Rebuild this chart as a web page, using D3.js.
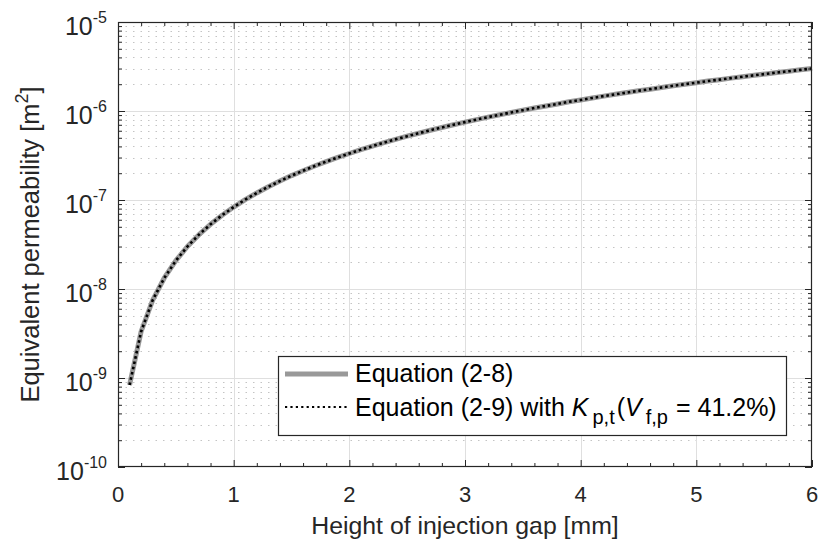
<!DOCTYPE html>
<html>
<head>
<meta charset="utf-8">
<script src="https://cdn.jsdelivr.net/npm/d3@7"></script>
<style>
  html, body { margin: 0; padding: 0; background: #fff; }
  svg { display: block; font-family: "Liberation Sans", Arial, Helvetica, sans-serif; }
</style>
</head>
<body>
<svg id="chart" width="819" height="542"></svg>
<script>
// ---- data ----
const gapHeightMM = [0.1,0.2,0.3,0.4,0.5,0.6,0.7,0.8,0.9,1.0,
  1.1,1.2,1.3,1.4,1.5,1.6,1.7,1.8,1.9,2.0,
  2.1,2.2,2.3,2.4,2.5,2.6,2.7,2.8,2.9,3.0,
  3.1,3.2,3.3,3.4,3.5,3.6,3.7,3.8,3.9,4.0,
  4.1,4.2,4.3,4.4,4.5,4.6,4.7,4.8,4.9,5.0,
  5.1,5.2,5.3,5.4,5.5,5.6,5.7,5.8,5.9,6.0];
const eq28 = [8.33e-10,3.33e-9,7.50e-9,1.33e-8,2.08e-8,3.00e-8,4.08e-8,5.33e-8,6.75e-8,8.33e-8,
  1.01e-7,1.20e-7,1.41e-7,1.63e-7,1.88e-7,2.13e-7,2.41e-7,2.70e-7,3.01e-7,3.33e-7,
  3.68e-7,4.03e-7,4.41e-7,4.80e-7,5.21e-7,5.63e-7,6.08e-7,6.53e-7,7.01e-7,7.50e-7,
  8.01e-7,8.53e-7,9.08e-7,9.63e-7,1.02e-6,1.08e-6,1.14e-6,1.20e-6,1.27e-6,1.33e-6,
  1.40e-6,1.47e-6,1.54e-6,1.61e-6,1.69e-6,1.76e-6,1.84e-6,1.92e-6,2.00e-6,2.08e-6,
  2.17e-6,2.25e-6,2.34e-6,2.43e-6,2.52e-6,2.61e-6,2.71e-6,2.80e-6,2.90e-6,3.00e-6];
const eq29 = [8.33e-10,3.33e-9,7.50e-9,1.33e-8,2.08e-8,3.00e-8,4.08e-8,5.33e-8,6.75e-8,8.33e-8,
  1.01e-7,1.20e-7,1.41e-7,1.63e-7,1.88e-7,2.13e-7,2.41e-7,2.70e-7,3.01e-7,3.33e-7,
  3.68e-7,4.03e-7,4.41e-7,4.80e-7,5.21e-7,5.63e-7,6.08e-7,6.53e-7,7.01e-7,7.50e-7,
  8.01e-7,8.53e-7,9.08e-7,9.63e-7,1.02e-6,1.08e-6,1.14e-6,1.20e-6,1.27e-6,1.33e-6,
  1.40e-6,1.47e-6,1.54e-6,1.61e-6,1.69e-6,1.76e-6,1.84e-6,1.92e-6,2.00e-6,2.08e-6,
  2.17e-6,2.25e-6,2.34e-6,2.43e-6,2.52e-6,2.61e-6,2.71e-6,2.80e-6,2.90e-6,3.00e-6];
const xTicks = [0,1,2,3,4,5,6];
const xMinorTicks = [0.2,0.4,0.6,0.8,1.2,1.4,1.6,1.8,2.2,2.4,2.6,2.8,3.2,3.4,3.6,3.8,4.2,4.4,4.6,4.8,5.2,5.4,5.6,5.8];
const yTickExponents = [-10,-9,-8,-7,-6,-5];
const yMinorMantissas = [2,3,4,5,6,7,8,9];
const xLabel = "Height of injection gap [mm]";
const yLabel = "Equivalent permeability [m";
const legend1 = "Equation (2-8)";

// ---- layout ----
const L = 118, R = 812, T = 22, B = 467;
const axisCol = "#262626";
const svg = d3.select("#chart");

const x = d3.scaleLinear().domain([0, 6]).range([L, R]);
const y = d3.scaleLog().domain([1e-10, 1e-5]).range([B, T]);

const yMajor = yTickExponents.map(e => Math.pow(10, e));
const yMinor = [];
yTickExponents.slice(0, -1).forEach(e => yMinorMantissas.forEach(m => yMinor.push(m * Math.pow(10, e))));

// ---- grid ----
const grid = svg.append("g");
grid.selectAll(".ym").data(yMinor).join("line")
  .attr("x1", L).attr("x2", R)
  .attr("y1", d => Math.round(y(d)) + 0.5).attr("y2", d => Math.round(y(d)) + 0.5)
  .attr("stroke", "#c4c4c4").attr("stroke-width", 1).attr("stroke-dasharray", "1.5,6");
grid.selectAll(".xg").data(xTicks.slice(1, -1)).join("line")
  .attr("x1", d => Math.round(x(d)) + 0.5).attr("x2", d => Math.round(x(d)) + 0.5)
  .attr("y1", T).attr("y2", B)
  .attr("stroke", "#dfdfdf").attr("stroke-width", 1);
grid.selectAll(".yg").data(yMajor.slice(1, -1)).join("line")
  .attr("x1", L).attr("x2", R)
  .attr("y1", d => Math.round(y(d)) + 0.5).attr("y2", d => Math.round(y(d)) + 0.5)
  .attr("stroke", "#dfdfdf").attr("stroke-width", 1);

// ---- curves ----
const pts28 = gapHeightMM.map((h, i) => [h, eq28[i]]);
const pts29 = gapHeightMM.map((h, i) => [h, eq29[i]]);
const line = d3.line().x(d => x(d[0])).y(d => y(d[1]));
svg.append("path").attr("d", line(pts28)).attr("fill", "none")
  .attr("stroke", "#999999").attr("stroke-width", 5).attr("stroke-linejoin", "round");
svg.append("path").attr("d", line(pts29)).attr("fill", "none")
  .attr("stroke", "#000").attr("stroke-width", 2.6).attr("stroke-dasharray", "2.6,2.8");

// ---- axes (ticks inward, box on) ----
function styleAxis(g) {
  g.select(".domain").remove();
  g.selectAll(".tick line").attr("stroke", axisCol).attr("stroke-width", 1);
  g.selectAll(".tick text").remove();
}
svg.append("g").attr("transform", `translate(0,${B})`)
  .call(d3.axisBottom(x).tickValues(xTicks).tickSize(-7).tickFormat("")).call(styleAxis);
svg.append("g").attr("transform", `translate(0,${B})`)
  .call(d3.axisBottom(x).tickValues(xMinorTicks).tickSize(-4).tickFormat("")).call(styleAxis);
svg.append("g").attr("transform", `translate(0,${T})`)
  .call(d3.axisTop(x).tickValues(xTicks).tickSize(-7).tickFormat("")).call(styleAxis);
svg.append("g").attr("transform", `translate(0,${T})`)
  .call(d3.axisTop(x).tickValues(xMinorTicks).tickSize(-4).tickFormat("")).call(styleAxis);
svg.append("g").attr("transform", `translate(${L},0)`)
  .call(d3.axisLeft(y).tickValues(yMajor).tickSize(-7).tickFormat("")).call(styleAxis);
svg.append("g").attr("transform", `translate(${L},0)`)
  .call(d3.axisLeft(y).tickValues(yMinor).tickSize(-4).tickFormat("")).call(styleAxis);
svg.append("g").attr("transform", `translate(${R},0)`)
  .call(d3.axisRight(y).tickValues(yMajor).tickSize(-7).tickFormat("")).call(styleAxis);
svg.append("g").attr("transform", `translate(${R},0)`)
  .call(d3.axisRight(y).tickValues(yMinor).tickSize(-4).tickFormat("")).call(styleAxis);

svg.append("rect").attr("x", L + 0.5).attr("y", T + 0.5)
  .attr("width", R - L - 1).attr("height", B - T - 1)
  .attr("fill", "none").attr("stroke", axisCol).attr("stroke-width", 1.2);

// ---- tick labels ----
svg.selectAll(".xl").data(xTicks).join("text")
  .attr("x", d => x(d)).attr("y", 502)
  .attr("text-anchor", "middle").attr("font-size", 22).attr("fill", axisCol)
  .text(d => d);

const yl = svg.selectAll(".yl").data(yMajor).join("text")
  .attr("x", 107).attr("y", d => y(d) + 13)
  .attr("text-anchor", "end").attr("font-size", 25).attr("fill", axisCol);
yl.append("tspan").text("10");
yl.append("tspan").attr("dy", -12).attr("font-size", 16)
  .text((d, i) => "-" + Math.abs(yTickExponents[i]));

// ---- axis labels ----
svg.append("text").attr("x", (L + R) / 2).attr("y", 534)
  .attr("text-anchor", "middle").attr("font-size", 24.8).attr("fill", axisCol)
  .text(xLabel);

const ylab = svg.append("text")
  .attr("transform", `translate(38.5,${(T + B) / 2}) rotate(-90)`)
  .attr("text-anchor", "middle").attr("font-size", 25.5).attr("fill", axisCol);
ylab.append("tspan").text(yLabel);
ylab.append("tspan").attr("dy", -11).attr("font-size", 18).text("2");
ylab.append("tspan").attr("dy", 11).text("]");

// ---- legend ----
const lg = svg.append("g");
lg.append("rect").attr("x", 278.5).attr("y", 356.5).attr("width", 508).attr("height", 79)
  .attr("fill", "#fff").attr("stroke", axisCol).attr("stroke-width", 1.2);
lg.append("line").attr("x1", 285).attr("x2", 348).attr("y1", 374).attr("y2", 374)
  .attr("stroke", "#999999").attr("stroke-width", 5);
lg.append("line").attr("x1", 285).attr("x2", 348).attr("y1", 407).attr("y2", 407)
  .attr("stroke", "#000").attr("stroke-width", 2.2).attr("stroke-dasharray", "2.2,3.2");
lg.append("text").attr("x", 355).attr("y", 382).attr("font-size", 25).attr("fill", "#000")
  .text(legend1);
const t2 = lg.append("text").attr("x", 355).attr("y", 415.5).attr("font-size", 25).attr("fill", "#000");
t2.append("tspan").text("Equation (2-9) with ");
t2.append("tspan").attr("font-style", "italic").text("K");
t2.append("tspan").attr("dx", 4).attr("dy", 8.5).attr("font-size", 20).text("p,t");
t2.append("tspan").attr("dx", 2).attr("dy", -8.5).text("(");
t2.append("tspan").attr("font-style", "italic").text("V");
t2.append("tspan").attr("dx", 4).attr("dy", 8.5).attr("font-size", 20).text("f,p");
t2.append("tspan").attr("dx", 1).attr("dy", -8.5).text(" = 41.2%)");
</script>
</body>
</html>
